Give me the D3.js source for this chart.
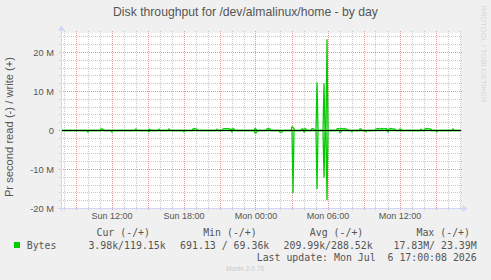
<!DOCTYPE html>
<html>
<head>
<meta charset="utf-8">
<script src="https://cdn.jsdelivr.net/npm/d3@7"></script>
<style>
  body { margin: 0; background: #f0f0f0; }
  svg { display: block; }
  text { font-family: "Liberation Sans", Arial, sans-serif; fill: #555; }
  .mono { font-family: "DejaVu Sans Mono", monospace; white-space: pre; }
</style>
</head>
<body>
<svg id="chart" width="491" height="280"></svg>
<script>
// values, bytes per second, one sample per 5 minutes.
// anything not listed sits on the baseline (0).
var writeSamples = [
  ['Sun 11:05', 0.4e6], ['Sun 11:10', 0.4e6], ['Sun 11:15', 0.3e6],
  ['Sun 14:00', 0.4e6],
  ['Sun 15:05', 0.3e6], ['Sun 15:10', 0.3e6],
  ['Sun 15:55', 0.3e6],
  ['Sun 16:45', 0.4e6],
  ['Sun 18:45', 0.4e6], ['Sun 18:50', 0.5e6], ['Sun 18:55', 0.4e6], ['Sun 19:00', 0.4e6], ['Sun 19:05', 0.3e6],
  ['Sun 20:45', 0.3e6],
  ['Sun 21:15', 0.4e6], ['Sun 21:20', 0.5e6], ['Sun 21:25', 0.5e6], ['Sun 21:30', 0.4e6], ['Sun 21:35', 0.5e6],
  ['Sun 21:40', 0.5e6], ['Sun 21:45', 0.4e6], ['Sun 21:50', 0.3e6], ['Sun 21:55', 0.4e6], ['Sun 22:05', 0.5e6], ['Sun 22:10', 0.4e6],
  ['Sun 23:55', 0.5e6], ['Mon 00:00', 0.4e6],
  ['Mon 00:55', 0.4e6], ['Mon 01:00', 0.5e6], ['Mon 01:05', 0.4e6], ['Mon 01:10', 0.4e6],
  ['Mon 03:00', 0.9e6], ['Mon 03:05', 0.8e6], ['Mon 03:10', 0.4e6],
  ['Mon 03:50', 0.4e6], ['Mon 03:55', 0.4e6], ['Mon 04:05', 0.5e6], ['Mon 04:10', 0.4e6],
  ['Mon 04:40', 0.5e6], ['Mon 04:45', 0.5e6], ['Mon 04:50', 0.4e6],
  ['Mon 05:05', 12.4e6],
  ['Mon 05:40', 12.1e6],
  ['Mon 05:55', 23.39e6],
  ['Mon 06:45', 0.4e6], ['Mon 06:50', 0.5e6], ['Mon 06:55', 0.4e6], ['Mon 07:00', 0.4e6], ['Mon 07:05', 0.5e6],
  ['Mon 07:10', 0.4e6], ['Mon 07:15', 0.4e6], ['Mon 07:20', 0.5e6], ['Mon 07:25', 0.4e6], ['Mon 07:30', 0.4e6], ['Mon 07:35', 0.3e6],
  ['Mon 08:40', 0.4e6], ['Mon 08:45', 0.4e6],
  ['Mon 10:00', 0.4e6], ['Mon 10:05', 0.4e6], ['Mon 10:10', 0.5e6], ['Mon 10:15', 0.4e6], ['Mon 10:20', 0.4e6],
  ['Mon 10:25', 0.4e6], ['Mon 10:30', 0.5e6], ['Mon 10:35', 0.4e6], ['Mon 10:40', 0.4e6], ['Mon 10:45', 0.4e6],
  ['Mon 10:50', 0.5e6], ['Mon 10:55', 0.4e6], ['Mon 11:05', 0.4e6], ['Mon 11:10', 0.4e6], ['Mon 11:15', 0.5e6],
  ['Mon 11:20', 0.4e6], ['Mon 11:25', 0.4e6], ['Mon 11:30', 0.4e6], ['Mon 11:35', 0.3e6],
  ['Mon 12:00', 0.4e6], ['Mon 12:05', 0.3e6],
  ['Mon 13:45', 0.3e6],
  ['Mon 14:05', 0.4e6], ['Mon 14:10', 0.4e6], ['Mon 14:15', 0.5e6], ['Mon 14:20', 0.4e6], ['Mon 14:25', 0.4e6], ['Mon 14:30', 0.4e6], ['Mon 14:35', 0.3e6],
  ['Mon 16:25', 0.4e6]
];

var readSamples = [
  ['Sun 10:00', 0.4e6],
  ['Sun 12:00', 0.4e6],
  ['Sun 15:05', 0.3e6],
  ['Sun 18:00', 0.3e6],
  ['Sun 22:00', 0.4e6],
  ['Sun 23:55', 0.6e6], ['Mon 00:00', 0.6e6], ['Mon 00:05', 0.3e6],
  ['Mon 02:00', 0.4e6], ['Mon 02:05', 0.4e6], ['Mon 02:10', 0.4e6],
  ['Mon 03:05', 16.0e6],
  ['Mon 04:00', 0.4e6], ['Mon 04:05', 0.3e6],
  ['Mon 05:05', 15.0e6],
  ['Mon 05:40', 12.1e6],
  ['Mon 05:55', 17.83e6],
  ['Mon 07:00', 0.5e6], ['Mon 07:05', 0.4e6],
  ['Mon 08:00', 0.3e6],
  ['Mon 09:10', 0.3e6],
  ['Mon 11:00', 0.4e6],
  ['Mon 15:05', 0.3e6]
];

var yTicks = [-20e6, -10e6, 0, 10e6, 20e6];
var yTickLabels = ['-20 M', '-10 M', '0', '10 M', '20 M'];

var legendHeaders = ['Cur (-/+)', 'Min (-/+)', 'Avg (-/+)', 'Max (-/+)'];
var legendValues = ['3.98k/119.15k', '691.13 / 69.36k', '209.99k/288.52k', '17.83M/ 23.39M'];

var title = 'Disk throughput for /dev/almalinux/home - by day';
var vLabel = 'Pr second read (-) / write (+)';
var lastUpdate = 'Last update: Mon Jul  6 17:00:08 2026';

var days = { Sun: '2026-07-05', Mon: '2026-07-06' };
var parseTime = d3.timeParse('%Y-%m-%d %H:%M');
function toDate(s) {
  var parts = s.split(' ');
  return parseTime(days[parts[0]] + ' ' + parts[1]);
}

var start = toDate('Sun 07:45');
var end = toDate('Mon 17:05');

var svg = d3.select('#chart');

var x = d3.scaleTime().domain([start, end]).range([61, 461]);
var y = d3.scaleLinear().domain([-20e6, 25e6]).range([208.5, 33]);

// canvas
svg.append('rect')
  .attr('x', 61).attr('y', 33)
  .attr('width', 400).attr('height', 175.5)
  .attr('fill', '#fff');

// grid
var crisp = function (v) { return Math.floor(v) + 0.5; };

var minorY = d3.range(-20e6, 25e6 + 1, 2e6).filter(function (v) { return v % 10e6 !== 0; });
svg.append('g').selectAll('line').data(minorY).enter().append('line')
  .attr('x1', 59).attr('x2', 463)
  .attr('y1', function (d) { return crisp(y(d)); })
  .attr('y2', function (d) { return crisp(y(d)); })
  .attr('stroke', '#c8c8c8').attr('stroke-dasharray', '1,1');

var hours = d3.timeHour.every(1).range(start, end);
var minorX = hours.filter(function (d) { return d.getHours() % 3 !== 0; });
var majorX = hours.filter(function (d) { return d.getHours() % 3 === 0; });

svg.append('g').selectAll('line').data(minorX).enter().append('line')
  .attr('x1', function (d) { return crisp(x(d)); })
  .attr('x2', function (d) { return crisp(x(d)); })
  .attr('y1', 31).attr('y2', 210)
  .attr('stroke', '#c8c8c8').attr('stroke-dasharray', '1,1');

svg.append('g').selectAll('line').data(yTicks).enter().append('line')
  .attr('x1', 59).attr('x2', 463)
  .attr('y1', function (d) { return crisp(y(d)); })
  .attr('y2', function (d) { return crisp(y(d)); })
  .attr('stroke', '#e49a9a').attr('stroke-dasharray', '1,1');

svg.append('g').selectAll('line').data(majorX).enter().append('line')
  .attr('x1', function (d) { return crisp(x(d)); })
  .attr('x2', function (d) { return crisp(x(d)); })
  .attr('y1', 31).attr('y2', 210)
  .attr('stroke', '#e49a9a').attr('stroke-dasharray', '1,1');

// data: every 5 minute step, baseline where nothing was read
function buildSeries(samples, sign) {
  var lookup = {};
  samples.forEach(function (s) { lookup[+toDate(s[0])] = s[1]; });
  return d3.timeMinute.every(5).range(start, end).map(function (t) {
    return { t: t, v: sign * (lookup[+t] || 0) };
  });
}

var line = d3.line()
  .x(function (d) { return x(d.t); })
  .y(function (d) { return y(d.v); });

[buildSeries(readSamples, -1), buildSeries(writeSamples, 1)].forEach(function (series) {
  svg.append('path')
    .datum(series)
    .attr('d', line)
    .attr('fill', 'none')
    .attr('stroke', '#00cc00')
    .attr('stroke-width', 1.3);
});

// zero line
svg.append('line')
  .attr('x1', 61).attr('x2', 461)
  .attr('y1', y(0)).attr('y2', y(0))
  .attr('stroke', '#000').attr('stroke-width', 1.2);

// axes with arrows
var axisColor = '#cfd6f8';
svg.append('line')
  .attr('x1', 61.5).attr('x2', 61.5).attr('y1', 29).attr('y2', 211)
  .attr('stroke', axisColor);
svg.append('path')
  .attr('d', 'M58,30.5 L61.5,25.5 L65,30.5 Z')
  .attr('fill', axisColor);
svg.append('line')
  .attr('x1', 58).attr('x2', 463).attr('y1', 208.5).attr('y2', 208.5)
  .attr('stroke', axisColor);
svg.append('path')
  .attr('d', 'M462.5,205 L467.5,208.5 L462.5,212 Z')
  .attr('fill', axisColor);

// tick labels
svg.append('g').selectAll('text').data(yTicks).enter().append('text')
  .attr('x', 54)
  .attr('y', function (d) { return y(d) + 3.3; })
  .attr('text-anchor', 'end')
  .attr('font-size', 9.3)
  .text(function (d, i) { return yTickLabels[i]; });

var labelHours = hours.filter(function (d) { return d.getHours() % 6 === 0; });
var fmt = d3.timeFormat('%a %H:%M');
svg.append('g').selectAll('text').data(labelHours).enter().append('text')
  .attr('x', function (d) { return x(d); })
  .attr('y', 218.5)
  .attr('text-anchor', 'middle')
  .attr('font-size', 9)
  .text(function (d) { return fmt(d); });

// titles
svg.append('text')
  .attr('x', 245.5).attr('y', 16)
  .attr('text-anchor', 'middle')
  .attr('font-size', 12.2)
  .text(title);

svg.append('text')
  .attr('transform', 'translate(13,127) rotate(-90)')
  .attr('text-anchor', 'middle')
  .attr('font-size', 11.2)
  .text(vLabel);

svg.append('text')
  .attr('transform', 'translate(481,54) rotate(90)')
  .attr('text-anchor', 'middle')
  .attr('font-size', 7.7)
  .style('fill', '#d4d4d4')
  .text('RRDTOOL / TOBI OETIKER');

// legend
var headerEnds = [150, 256.7, 363.3, 470];
var valueEnds = [165.7, 269.3, 372.7, 476.7];

svg.append('g').selectAll('text').data(legendHeaders).enter().append('text')
  .attr('class', 'mono')
  .attr('x', function (d, i) { return headerEnds[i]; })
  .attr('y', 236)
  .attr('text-anchor', 'end')
  .attr('font-size', 9.9)
  .text(function (d) { return d; });

svg.append('rect')
  .attr('x', 14).attr('y', 242).attr('width', 6).attr('height', 6)
  .attr('fill', '#00cc00');

svg.append('text')
  .attr('class', 'mono')
  .attr('x', 26.7).attr('y', 248.5)
  .attr('font-size', 9.9)
  .text('Bytes');

svg.append('g').selectAll('text').data(legendValues).enter().append('text')
  .attr('class', 'mono')
  .attr('x', function (d, i) { return valueEnds[i]; })
  .attr('y', 248.5)
  .attr('text-anchor', 'end')
  .attr('font-size', 9.9)
  .text(function (d) { return d; });

svg.append('text')
  .attr('class', 'mono')
  .attr('x', 476.7).attr('y', 260.8)
  .attr('text-anchor', 'end')
  .attr('font-size', 9.9)
  .text(lastUpdate);

svg.append('text')
  .attr('x', 245).attr('y', 270.5)
  .attr('text-anchor', 'middle')
  .attr('font-size', 6.6)
  .style('fill', '#c8c8c8')
  .text('Munin 2.0.76');
</script>
</body>
</html>
